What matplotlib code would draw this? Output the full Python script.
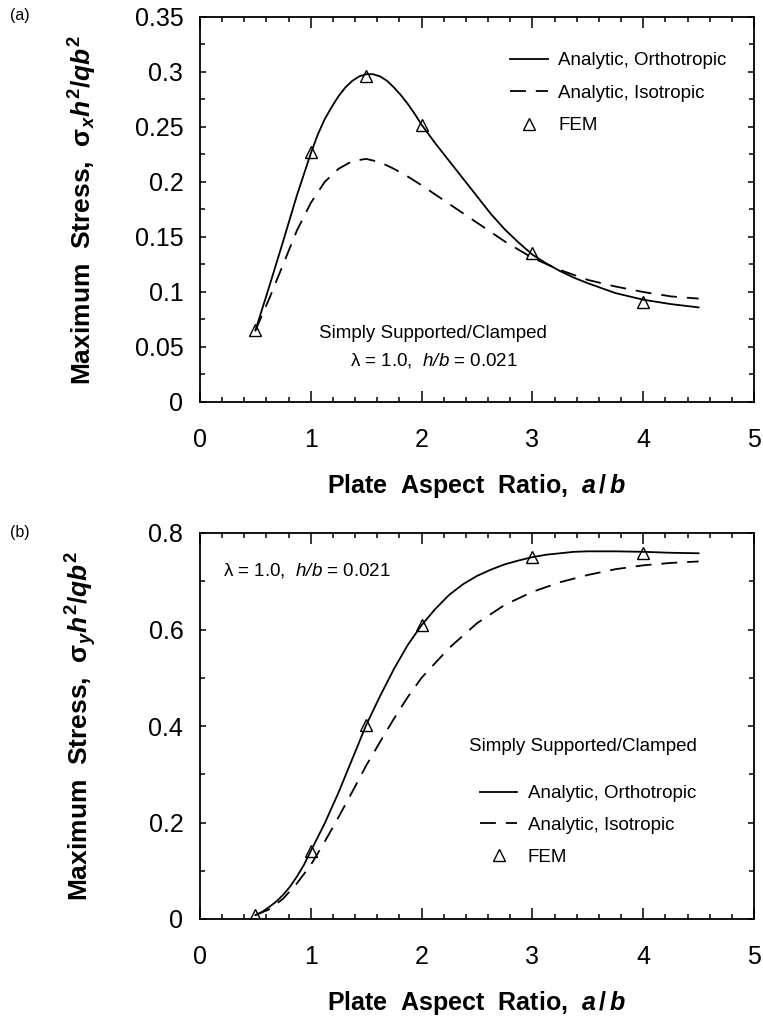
import matplotlib
matplotlib.use("Agg")
import matplotlib.pyplot as plt
from matplotlib.ticker import MultipleLocator

plt.rcParams['font.family'] = ['Liberation Sans', 'DejaVu Sans']
plt.rcParams['mathtext.fontset'] = 'custom'
plt.rcParams['mathtext.rm'] = 'Liberation Sans:bold'
plt.rcParams['mathtext.it'] = 'Liberation Sans:bold:italic'
plt.rcParams['mathtext.bf'] = 'Liberation Sans:bold'
plt.rcParams['mathtext.sf'] = 'Liberation Sans:italic'

# (a) sigma_x
xa_ortho = [0.5, 0.625, 0.75, 0.875, 1.0, 1.0625, 1.125, 1.1875, 1.25, 1.3125, 1.375, 1.4375,
            1.5, 1.5625, 1.625, 1.6875, 1.75, 1.8125, 1.875, 1.9375, 2.0, 2.125, 2.25, 2.375,
            2.5, 2.625, 2.75, 2.875, 3.0, 3.125, 3.25, 3.375, 3.5, 3.75, 4.0, 4.25, 4.5]
ya_ortho = [0.065, 0.105, 0.146, 0.188, 0.226, 0.243, 0.257, 0.268, 0.278, 0.286, 0.292, 0.296,
            0.298, 0.298, 0.296, 0.292, 0.286, 0.279, 0.271, 0.262, 0.252, 0.235, 0.219, 0.203,
            0.187, 0.171, 0.157, 0.145, 0.134, 0.126, 0.119, 0.113, 0.108, 0.099, 0.093, 0.089, 0.086]
xa_iso = [0.5, 0.625, 0.75, 0.875, 1.0, 1.125, 1.25, 1.375, 1.5, 1.625, 1.75, 1.875,
          2.0, 2.25, 2.5, 2.75, 3.0, 3.25, 3.5, 3.75, 4.0, 4.25, 4.5]
ya_iso = [0.065, 0.094, 0.125, 0.156, 0.181, 0.200, 0.212, 0.219, 0.221, 0.218, 0.212, 0.205,
          0.197, 0.180, 0.163, 0.146, 0.131, 0.120, 0.111, 0.105, 0.100, 0.096, 0.094]
xa_fem = [0.5, 1, 1.5, 2, 3, 4]
ya_fem = [0.065, 0.227, 0.296, 0.252, 0.135, 0.091]

# (b) sigma_y
xb_ortho = [0.5, 0.5625, 0.625, 0.6875, 0.75, 0.8125, 0.875, 0.9375, 1.0, 1.125, 1.25, 1.375,
            1.5, 1.625, 1.75, 1.875, 2.0, 2.125, 2.25, 2.375, 2.5, 2.625, 2.75, 2.875, 3.0,
            3.125, 3.25, 3.375, 3.5, 3.75, 4.0, 4.25, 4.5]
yb_ortho = [0.008, 0.015, 0.025, 0.036, 0.050, 0.067, 0.088, 0.112, 0.141, 0.198, 0.262, 0.332,
            0.402, 0.462, 0.518, 0.568, 0.609, 0.643, 0.672, 0.694, 0.711, 0.724, 0.735, 0.743, 0.750,
            0.755, 0.758, 0.761, 0.762, 0.762, 0.761, 0.759, 0.758]
xb_iso = [0.5, 0.625, 0.75, 0.875, 1.0, 1.125, 1.25, 1.375, 1.5, 1.625, 1.75, 1.875,
          2.0, 2.25, 2.5, 2.75, 3.0, 3.25, 3.5, 3.75, 4.0, 4.25, 4.5]
yb_iso = [0.008, 0.020, 0.042, 0.074, 0.112, 0.160, 0.211, 0.264, 0.318, 0.367, 0.415, 0.460,
          0.500, 0.562, 0.613, 0.651, 0.678, 0.698, 0.713, 0.725, 0.733, 0.738, 0.741]
xb_fem = [0.5, 1, 1.5, 2, 3, 4]
yb_fem = [0.008, 0.141, 0.402, 0.609, 0.750, 0.758]

lbl_ortho = 'Analytic, Orthotropic'
lbl_iso = 'Analytic, Isotropic'
lbl_fem = 'FEM'
note_bc = 'Simply Supported/Clamped'
note_par = 'λ = 1.0,  $\\mathsf{h/b}$ = 0.021'

fig = plt.figure(figsize=(7.63, 10.19), dpi=100)
ax1 = fig.add_axes([200/763, 1-402/1019, 554/763, 385/1019])
ax2 = fig.add_axes([200/763, 1-919/1019, 554/763, 386/1019])


def draw(ax, xo, yo, xi, yi, xf, yf):
    ax.plot(xo, yo, color='black', lw=1.3, label=lbl_ortho)
    ax.plot(xi, yi, color='black', lw=1.3, dashes=(8.8, 5.5), label=lbl_iso)
    ax.plot(xf, yf, ls='none', marker='^', ms=8.5, mfc='none', mec='black', mew=1.0,
            label=lbl_fem)
    ax.set_xlim(0, 5)
    ax.xaxis.set_major_locator(MultipleLocator(1))
    ax.xaxis.set_minor_locator(MultipleLocator(0.2))
    ax.tick_params(which='both', direction='in', top=True, right=True, width=1.1)
    ax.tick_params(axis='x', which='major', length=8, pad=19, labelsize=18)
    ax.tick_params(axis='x', which='minor', length=3.5)
    ax.tick_params(axis='y', which='major', length=4.5, pad=12, labelsize=18)
    ax.tick_params(axis='y', which='minor', length=3.5)
    for s in ax.spines.values():
        s.set_linewidth(1.3)
    ax.set_xlabel('Plate  Aspect  Ratio,  $a\\,/\\,b$', fontsize=18, fontweight='bold',
                  labelpad=14)
    ax.yaxis.set_label_coords(-0.183, 0.5)


draw(ax1, xa_ortho, ya_ortho, xa_iso, ya_iso, xa_fem, ya_fem)
ax1.set_ylim(0, 0.35)
ax1.yaxis.set_minor_locator(MultipleLocator(0.025))
ax1.set_yticks([0, 0.05, 0.1, 0.15, 0.2, 0.25, 0.3, 0.35])
ax1.set_yticklabels(['0', '0.05', '0.1', '0.15', '0.2', '0.25', '0.3', '0.35'])
ax1.set_ylabel('Maximum  Stress,  $\\mathrm{\\sigma}_x h^2/qb^2$', fontsize=19,
               fontweight='bold')
ax1.legend(loc='upper left', bbox_to_anchor=(0.56, 0.909), frameon=False, fontsize=13.5,
           borderpad=0, borderaxespad=0, handlelength=2.0, handletextpad=0.55,
           labelspacing=0.82)
ax1.text(0.421, 0.179, note_bc, transform=ax1.transAxes, ha='center', va='center',
         fontsize=13.5)
ax1.text(0.423, 0.109, note_par, transform=ax1.transAxes, ha='center', va='center',
         fontsize=13.5)

draw(ax2, xb_ortho, yb_ortho, xb_iso, yb_iso, xb_fem, yb_fem)
ax2.set_ylim(0, 0.8)
ax2.yaxis.set_minor_locator(MultipleLocator(0.1))
ax2.set_yticks([0, 0.2, 0.4, 0.6, 0.8])
ax2.set_yticklabels(['0', '0.2', '0.4', '0.6', '0.8'])
ax2.set_ylabel('Maximum  Stress,  $\\mathrm{\\sigma}_y h^2/qb^2$', fontsize=19,
               fontweight='bold')
ax2.legend(loc='upper left', bbox_to_anchor=(0.505, 0.347), frameon=False, fontsize=13.5,
           borderpad=0, borderaxespad=0, handlelength=2.0, handletextpad=0.55,
           labelspacing=0.78)
ax2.text(0.691, 0.446, note_bc, transform=ax2.transAxes, ha='center', va='center',
         fontsize=13.5)
ax2.text(0.042, 0.904, note_par, transform=ax2.transAxes, ha='left', va='center',
         fontsize=13.5)

fig.text(0.013, 0.985, '(a)', fontsize=11.5, va='center')
fig.text(0.013, 0.477, '(b)', fontsize=11.5, va='center')

fig.savefig('out.png', dpi=100)
